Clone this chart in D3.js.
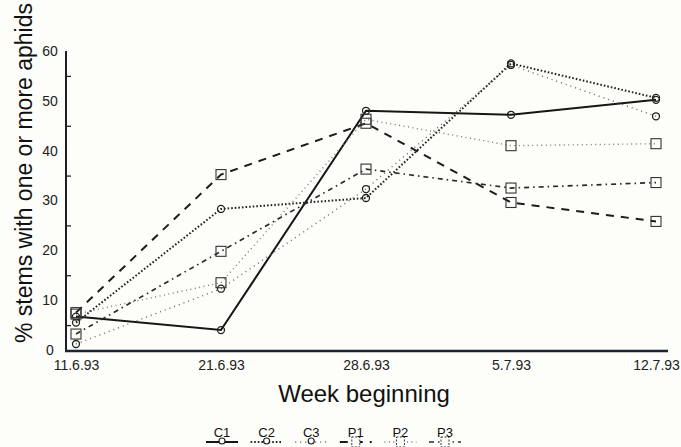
<!DOCTYPE html>
<html>
<head>
<meta charset="utf-8">
<script src="https://cdn.jsdelivr.net/npm/d3@7"></script>
<style>
body { margin: 0; background: #fdfdf9; }
svg { display: block; font-family: "Liberation Sans", Arial, sans-serif; }
</style>
</head>
<body>
<svg id="chart"></svg>
<script>
// values (% of stems with >= 1 aphid)
var weeks = ["11.6.93", "21.6.93", "28.6.93", "5.7.93", "12.7.93"];
var c1 = [6.7, 4.0, 48.0, 47.2, 50.2];
var c2 = [5.5, 28.3, 30.5, 57.5, 50.6];
var c3 = [1.2, 12.3, 32.3, 57.2, 46.9];
var p1 = [7.5, 35.2, 45.5, 29.6, 25.8];
var p2 = [7.2, 13.5, 46.3, 41.0, 41.4];
var p3 = [3.2, 19.8, 36.3, 32.5, 33.6];
var yTicks = [0, 10, 20, 30, 40, 50, 60];
var yMinor = [5, 15, 25, 35, 45, 55];
var names = ["C1", "C2", "C3", "P1", "P2", "P3"];

var series = [c1, c2, c3, p1, p2, p3].map(function(v, i) {
	return { name: names[i], values: v };
});

// line look per treatment
var look = {
	C1: { shape: "circle", dash: null,          w: 2,   col: "#161616" },
	C2: { shape: "circle", dash: "1.6,2",       w: 2,   col: "#222" },
	C3: { shape: "circle", dash: "1,4",         w: 1.4, col: "#666" },
	P1: { shape: "square", dash: "8,7",         w: 2,   col: "#1c1c1c" },
	P2: { shape: "square", dash: "1,3.5",       w: 1.4, col: "#777" },
	P3: { shape: "square", dash: "5,4,1.5,4",   w: 1.7, col: "#2a2a2a" }
};

var svg = d3.select("#chart")
	.attr("width", 681)
	.attr("height", 447);

var x = d3.scalePoint().domain(weeks).range([76, 656]);
var y = d3.scaleLinear().domain([0, 60]).range([350, 51]);

// axes lines
svg.append("line")
	.attr("x1", 66).attr("x2", 66).attr("y1", y(60)).attr("y2", 352)
	.attr("stroke", "#1a1f26").attr("stroke-width", 2);
svg.append("line")
	.attr("x1", 65).attr("x2", 668).attr("y1", 351).attr("y2", 351)
	.attr("stroke", "#1a2530").attr("stroke-width", 2.5);

var yAxis = svg.append("g")
	.attr("transform", "translate(66,0)")
	.call(d3.axisLeft(y).tickValues(yTicks).tickSize(0));
yAxis.select(".domain").remove();
yAxis.selectAll("text")
	.attr("x", -16)
	.attr("text-anchor", "middle")
	.attr("font-size", 14)
	.attr("font-family", "Liberation Sans, Arial, sans-serif")
	.attr("fill", "#222");

var yMin = svg.append("g")
	.attr("transform", "translate(66,0)")
	.call(d3.axisRight(y).tickValues(yMinor).tickSize(5).tickFormat(""));
yMin.select(".domain").remove();
yMin.selectAll("line").attr("stroke", "#222").attr("stroke-width", 1.3);

var xAxis = svg.append("g")
	.attr("transform", "translate(0,351)")
	.call(d3.axisBottom(x).tickSize(0).tickPadding(9));
xAxis.select(".domain").remove();
xAxis.selectAll("text")
	.attr("font-size", 14)
	.attr("font-family", "Liberation Sans, Arial, sans-serif")
	.attr("fill", "#222");

// titles
svg.append("text")
	.attr("x", 364).attr("y", 402)
	.attr("text-anchor", "middle")
	.attr("font-size", 24)
	.attr("fill", "#111")
	.text("Week beginning");

svg.append("text")
	.attr("transform", "translate(32,173) rotate(-90)")
	.attr("text-anchor", "middle")
	.attr("font-size", 23)
	.attr("fill", "#111")
	.text("% stems with one or more aphids");

// lines
var line = d3.line()
	.x(function(d, i) { return x(weeks[i]); })
	.y(function(d) { return y(d); });

var g = svg.append("g");
series.forEach(function(s) {
	var st = look[s.name];
	g.append("path")
		.datum(s.values)
		.attr("d", line)
		.attr("fill", "none")
		.attr("stroke", st.col)
		.attr("stroke-width", st.w)
		.attr("stroke-dasharray", st.dash);
});

function marker(sel, shape, cx, cy, col) {
	if (shape == "circle") {
		sel.append("circle")
			.attr("cx", cx).attr("cy", cy).attr("r", 3.5)
			.attr("fill", "none").attr("stroke", col).attr("stroke-width", 1.3);
	} else {
		sel.append("rect")
			.attr("x", cx - 5).attr("y", cy - 5).attr("width", 10).attr("height", 10)
			.attr("fill", "none").attr("stroke", col).attr("stroke-width", 1.1);
	}
}

series.forEach(function(s) {
	var st = look[s.name];
	s.values.forEach(function(v, i) {
		marker(g, st.shape, x(weeks[i]), y(v), st.shape == "circle" ? "#222" : "#333");
	});
});

// legend
var lx = d3.scalePoint().domain(names).range([222, 445]);
var leg = svg.append("g");
names.forEach(function(n) {
	var st = look[n];
	var cx = lx(n);
	leg.append("line")
		.attr("x1", cx - 16).attr("x2", cx + 16)
		.attr("y1", 442).attr("y2", 442)
		.attr("stroke", st.col)
		.attr("stroke-width", st.w)
		.attr("stroke-dasharray", st.dash);
	if (st.shape == "circle") {
		leg.append("circle")
			.attr("cx", cx).attr("cy", 441).attr("r", 3)
			.attr("fill", "#fdfdf9").attr("stroke", "#222").attr("stroke-width", 1.2);
	} else {
		leg.append("rect")
			.attr("x", cx - 4).attr("y", 437).attr("width", 8).attr("height", 10)
			.attr("fill", "#fdfdf9").attr("stroke", "#333").attr("stroke-width", 1)
			.attr("stroke-dasharray", "2,1.5");
	}
	leg.append("text")
		.attr("x", cx).attr("y", 437)
		.attr("text-anchor", "middle")
		.attr("font-size", 13)
		.attr("fill", "#111")
		.text(n);
});
</script>
</body>
</html>
